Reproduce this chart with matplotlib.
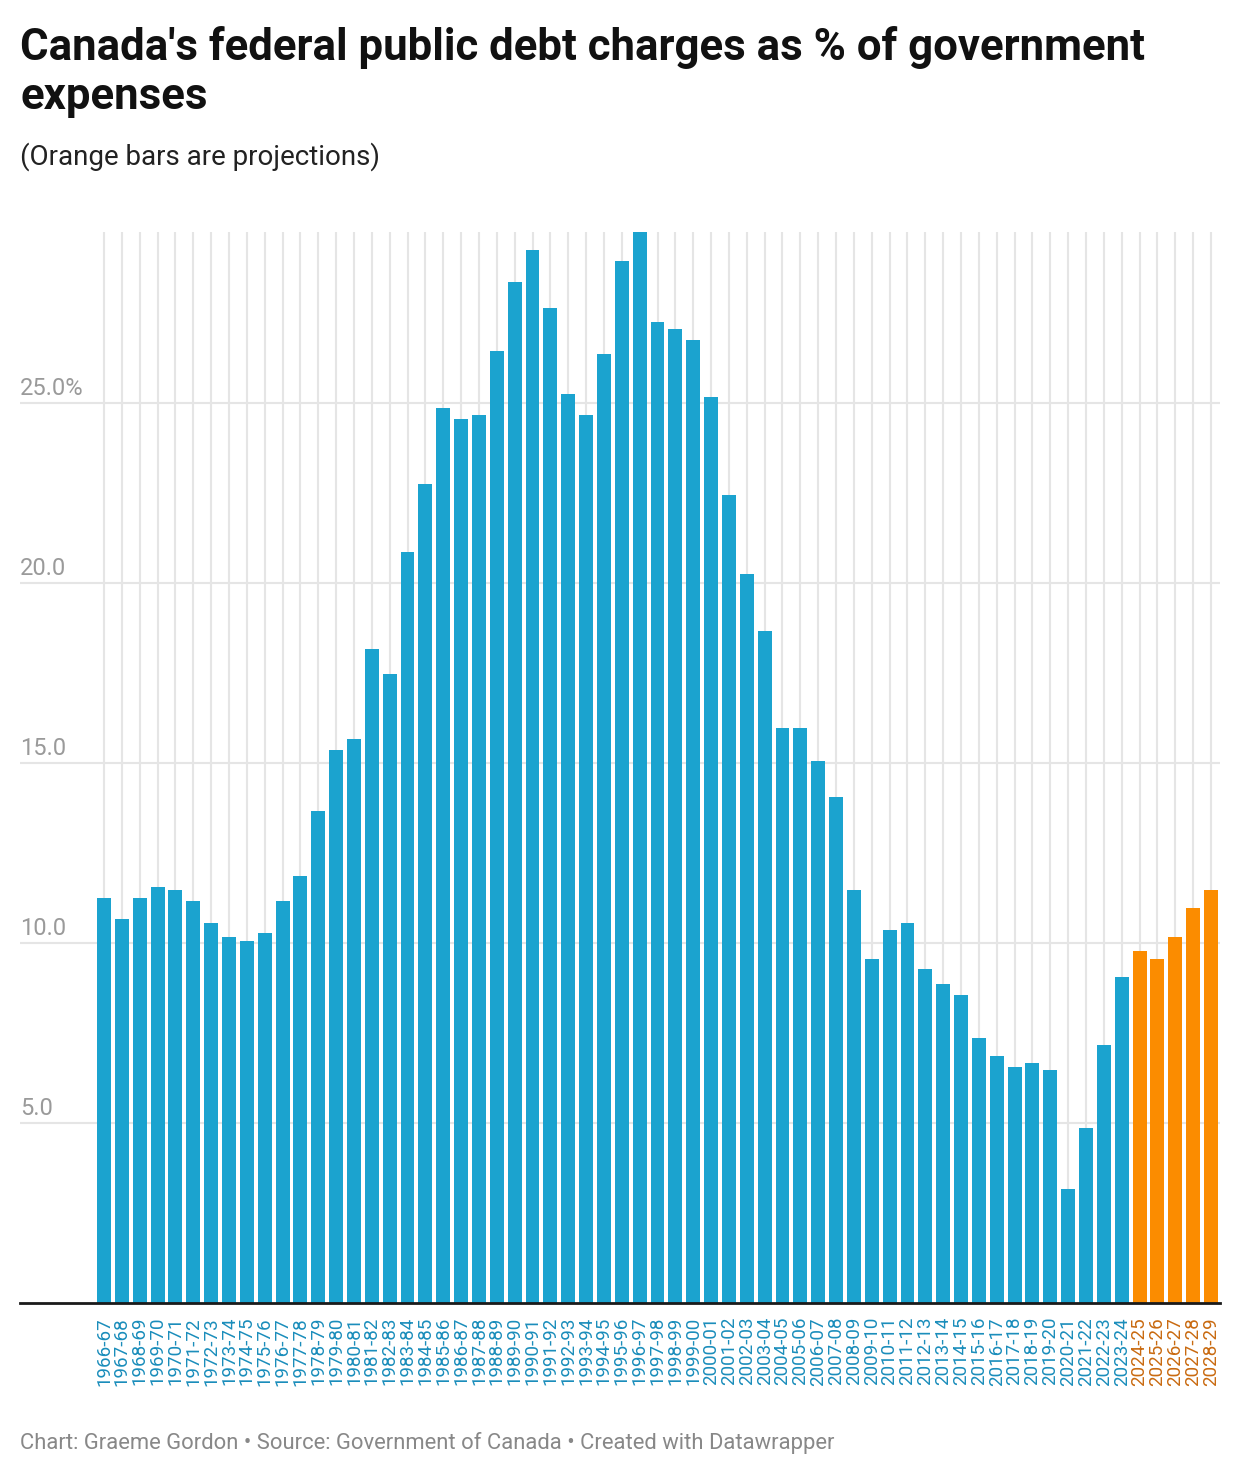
import matplotlib.pyplot as plt
import numpy as np

plt.rcParams['font.family'] = ['Roboto', 'DejaVu Sans']

years = ['1966-67', '1967-68', '1968-69', '1969-70', '1970-71', '1971-72', '1972-73',
         '1973-74', '1974-75', '1975-76', '1976-77', '1977-78', '1978-79', '1979-80',
         '1980-81', '1981-82', '1982-83', '1983-84', '1984-85', '1985-86', '1986-87',
         '1987-88', '1988-89', '1989-90', '1990-91', '1991-92', '1992-93', '1993-94',
         '1994-95', '1995-96', '1996-97', '1997-98', '1998-99', '1999-00', '2000-01',
         '2001-02', '2002-03', '2003-04', '2004-05', '2005-06', '2006-07', '2007-08',
         '2008-09', '2009-10', '2010-11', '2011-12', '2012-13', '2013-14', '2014-15',
         '2015-16', '2016-17', '2017-18', '2018-19', '2019-20', '2020-21', '2021-22',
         '2022-23', '2023-24', '2024-25', '2025-26', '2026-27', '2027-28', '2028-29']
share = [11.25, 10.67, 11.25, 11.56, 11.47, 11.17, 10.56, 10.17, 10.06, 10.28, 11.17,
         11.86, 13.67, 15.36, 15.67, 18.17, 17.47, 20.86, 22.75, 24.86, 24.56, 24.67,
         26.44, 28.36, 29.25, 27.64, 25.25, 24.67, 26.36, 28.94, 29.75, 27.25, 27.06,
         26.75, 25.17, 22.44, 20.25, 18.67, 15.97, 15.97, 15.06, 14.06, 11.47, 9.56,
         10.36, 10.56, 9.28, 8.86, 8.56, 7.36, 6.86, 6.56, 6.67, 6.47, 3.17, 4.86,
         7.17, 9.06, 9.78, 9.56, 10.17, 10.97, 11.47]
n_proj = 5
yticks = [5, 10, 15, 20, 25]
ytick_labels = ['5.0', '10.0', '15.0', '20.0', '25.0%']

W, H = 1240, 1476
fig = plt.figure(figsize=(W / 100, H / 100), dpi=100)

# axes spans the full gridline width, bars placed via xlim
left_px, right_px, top_px, base_px = 20, 1220, 232, 1303
ax = fig.add_axes([left_px / W, 1 - base_px / H, (right_px - left_px) / W, (base_px - top_px) / H])

step = (1211 - 104) / 62
x = np.arange(len(years))
ax.set_xlim((left_px - 104) / step, (right_px - 104) / step)
ytop = 29.75
ax.set_ylim(0, ytop)

blue, orange = '#1ba3cf', '#fb8c00'
cols = [blue] * (len(years) - n_proj) + [orange] * n_proj
lab_cols = ['#1a8dbb'] * (len(years) - n_proj) + ['#c96a10'] * n_proj

grid = '#e5e5e5'
ax.vlines(x, 0, ytop, color=grid, lw=1.5, zorder=0)
ax.hlines(yticks, *ax.get_xlim(), color=grid, lw=1.5, zorder=0)
ax.bar(x, share, width=0.78, color=cols, zorder=2)
ax.axhline(0, color='#1a1a1a', lw=2, zorder=3, clip_on=False)

for v, t in zip(yticks, ytick_labels):
    ax.annotate(t, (ax.get_xlim()[0], v), xytext=(0, 2.5), textcoords='offset points',
                ha='left', va='bottom', fontsize=17, color='#9a9a9a')

ax.set_xticks(x)
ax.set_xticklabels(years, rotation=90, fontsize=13.5, va='top', ha='center')
for lbl, c in zip(ax.get_xticklabels(), lab_cols):
    lbl.set_color(c)
ax.tick_params(axis='x', length=0, pad=10)
ax.set_yticks([])
for s in ax.spines.values():
    s.set_visible(False)

fig.text(20 / W, 1 - 26 / H, "Canada's federal public debt charges as % of government\nexpenses",
         ha='left', va='top', fontsize=31.5, fontweight='bold', color='#111111', linespacing=1.2)
fig.text(20 / W, 1 - 157 / H, '(Orange bars are projections)', ha='left', va='center',
         fontsize=20, color='#222222')
fig.text(20 / W, 1 - 1443 / H,
         'Chart: Graeme Gordon \u2022 Source: Government of Canada \u2022 Created with Datawrapper',
         ha='left', va='center', fontsize=15.8, color='#888888')

fig.savefig('out.png', dpi=100)
